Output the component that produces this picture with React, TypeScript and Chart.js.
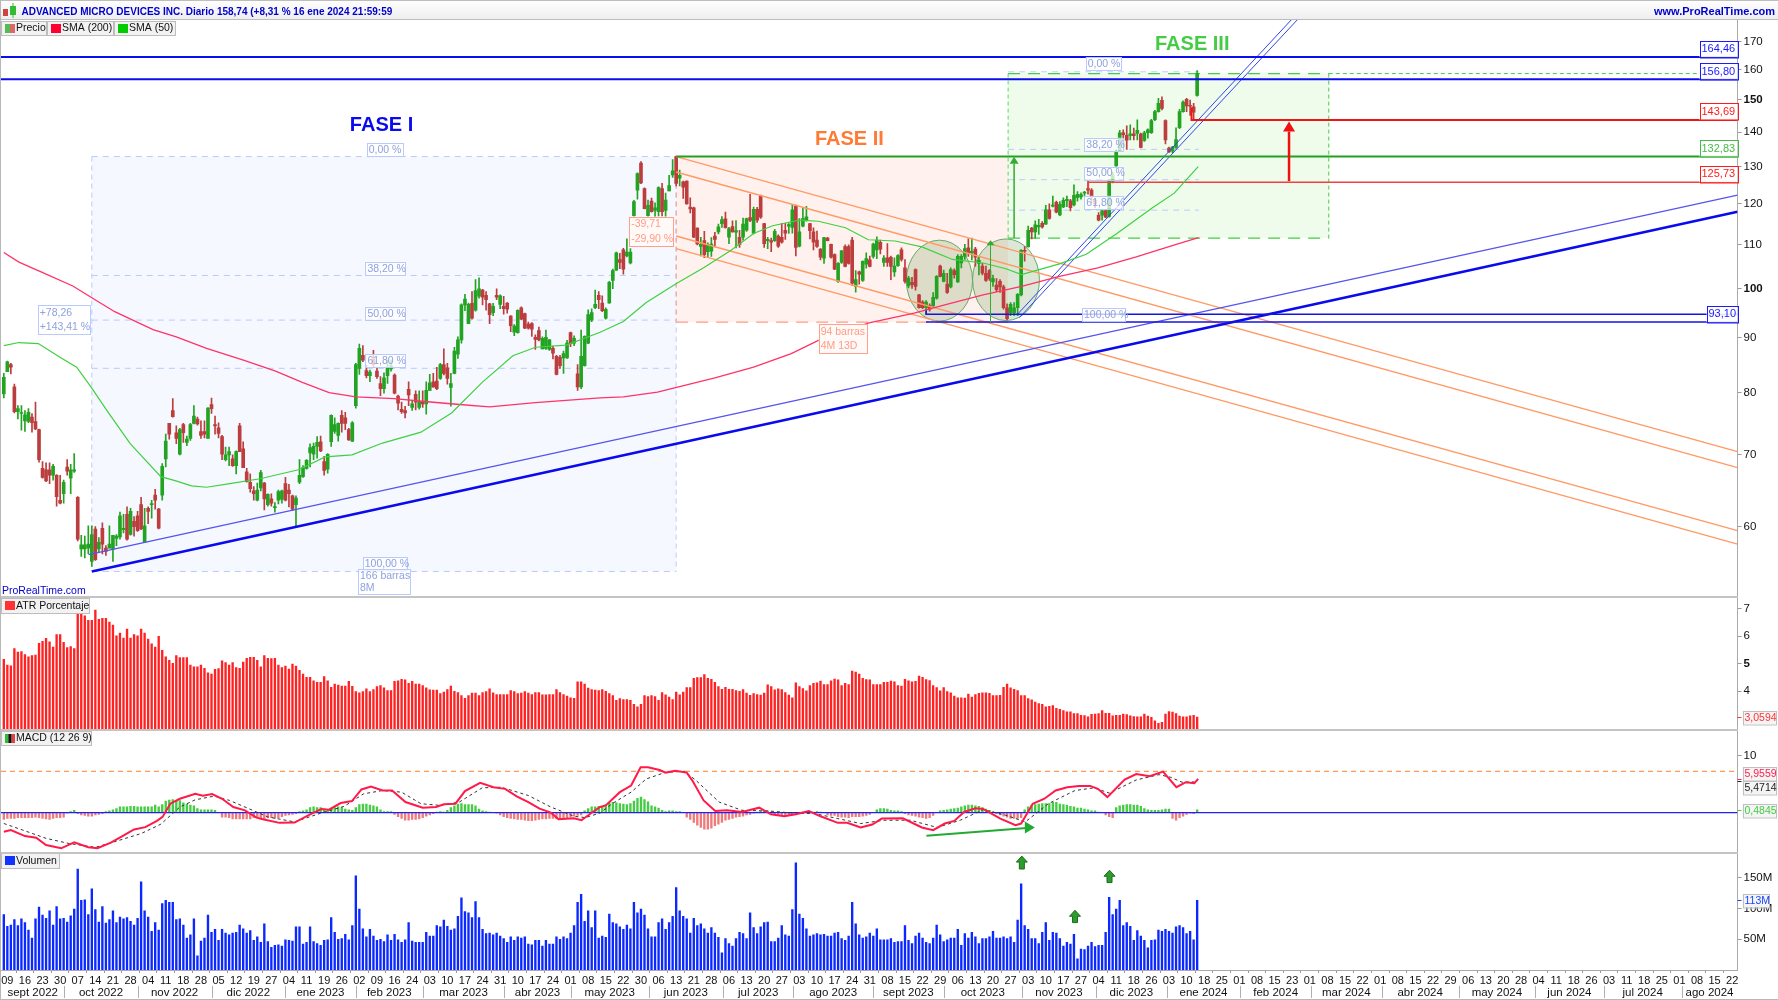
import React, { useEffect, useRef } from "react";
import { Chart, registerables } from "chart.js";

Chart.register(...registerables);

// ---------- DATA ----------
const titleText = "ADVANCED MICRO DEVICES INC. Diario 158,74 (+8,31 % 16 ene 2024 21:59:59";

const dayLabels = ["09","16","23","30","07","14","21","28","04","11","18","28","05","12","19","27","04","11","19","26","02","09","16","24","03","10","17","24","31","10","17","24","01","08",
"15","22","30","06","13","21","28","06","13","20","27","03","10","17","24","31","08","15","22","29","06","13","20","27","03","10","17","27","04","11","18","26","03","10",
"18","25","01","08","15","23","01","08","15","22","01","08","15","22","29","06","13","20","28","04","11","18","26","03","11","18","25","01","08","15","22"];
const monthLabels = ["sept 2022","oct 2022","nov 2022","dic 2022","ene 2023","feb 2023","mar 2023","abr 2023","may 2023","jun 2023","jul 2023","ago 2023","sept 2023","oct 2023","nov 2023","dic 2023","ene 2024","feb 2024","mar 2024","abr 2024","may 2024","jun 2024","jul 2024","ago 2024"];
const monthStarts = [-0.8,17.2,38,59,79.9,100,119,142.2,161,183.2,204.3,224.3,246.9,267,289.2,310.3,330.3,351.3,371.3,391.4,413.3,435,454.5,476.6,492.5];

// open, high, low, close
const candlesA = [[79.8,83.4,79.1,82.7],[83.7,85.6,83.7,85.5],[85,85.2,83.3,84.5],[81,81.5,76.6,76.8],[76.8,77.8,75.6,77.3],[76.5,77.8,73.8,76.6],[75.3,77,73.6,76.3],[75.2,77.3,75,76.7],[75.9,76.5,73.5,75],[75.2,78.4,73.9,74],
[73.9,74,68.9,69.3],[68,69,66.6,66.7],[67.8,68.8,66.1,66.2],[67.8,68.8,65.8,67],[67,68.6,66.3,68.3],[67,67.1,62.7,64],[63.5,67,63,63.1],[64.4,66.3,63.1,66],[68.2,69.3,67,67.6],[66.6,68.6,64.4,67.8],
[67.6,70.2,67.4,67.8],[63.9,64,58.2,58.4],[57.2,58.9,56.3,57.7],[57.2,58.8,56.1,57.7],[57.3,60.1,56.6,57.8],[55.7,60.1,55.1,59],[59.7,60,55.8,55.9],[57.2,58.6,56.8,58],[59.8,60.5,56.6,57.8],[57.3,57.6,56.4,56.9],
[57.3,60.1,57.3,57.8],[57.2,58.9,55.7,58.9],[58.5,59,57.6,58.8],[58.7,61.9,58.4,61.4],[59.6,61.6,59.2,59.8],[61.6,62.6,58.3,58.4],[59,62.4,58.9,62],[60.7,61.3,58.8,60],[61.4,62,59.4,59.5],[62.9,63.9,59.6,59.7],
[58,62.4,58,60.1],[62.4,62.6,60.4,62],[62.9,63.5,61.1,63],[64.2,65,62.3,63.5],[62.3,62.4,59.7,59.8],[64.2,68.7,63.5,68.3],[69.4,73.2,68.2,72.1],[74.9,74.9,72.4,73.2],[77,79,75.9,76],[73.4,74.5,71.7,72.5],
[70.1,74.1,70,73.9],[74.7,74.9,71.9,73.4],[71.9,72.9,71.4,72.4],[72.5,74.9,72.2,74.7],[74.9,77.8,74.8,76.1],[75.6,75.9,74.6,74.8],[73.6,75.3,72.5,73],[73.6,75.3,72.6,73.2],[72.5,77.5,72.5,77.4],[78,79.1,76.5,77.3],
[74.7,76.1,73.2,74.5],[74.2,75,72.6,73.3],[72.8,73,69.3,70.1],[69.3,71.2,69.1,70],[70,71.2,68.4,70.5],[69.4,70,68.3,68.4],[68.4,70.6,67.2,70.5],[74.5,74.9,70.5,70.5],[70.9,72,68.1,68.1],[67.5,68,66,66.1],
[66,67.2,64.6,65.1],[64.8,65.4,63.5,64.4],[63.5,65.9,63.4,64.9],[65.2,67.7,64.8,67.4],[65.9,66,62.2,63.7],[62.9,64.4,62.7,64.3],[63.7,64.4,62.7,63.1],[62.5,63.2,61.9,62.6],[63.5,64.9,63,64.7],[63.6,64.9,63.1,64.8],
[65.8,66.7,63.4,63.5],[64.9,65.7,62.6,64.4],[64.1,64.2,62.1,62.3],[62.9,64.1,60.1,63.8],[66,69.3,65.8,67]];
const candlesB = [[66.8,68.4,66.7,68.1],[68,69.3,67.9,69.2],[70.3,71.7,68.2,71.1],[70.1,71.8,69.3,71.3],[71.3,72.8,69.5,71.9],[72,72.9,70.5,70.6],[69,69.8,67,67.7],[67.9,70.2,67.3,70.1],[72,76.3,71.3,76.2],[73.6,75.8,73.3,74.7],
[73,75,72.1,74.9],[76.2,77,73.5,74.9],[75.8,76.7,73.9,74.9],[73.9,74.1,72.2,72.3],[72.1,75.2,72,75],[77.8,85.2,77.4,85],[84.3,88.8,83.2,88],[86.7,88.5,85.5,85.8],[83.9,84.9,82.6,83],[83,84,81.9,83.6],
[86,87.6,84.5,85],[83.8,84.5,82.5,82.8],[81.6,82.8,79.5,80.7],[80.7,83.5,79.9,82.6],[83,85.8,81.6,84.3],[84.2,85.8,83.8,84.8],[83.1,83.3,79.8,79.9],[79.4,79.6,77.1,78.2],[77.2,78.4,76.5,76.8],[77,77.7,75.8,76.6],
[80.6,81.9,77.8,79.6],[77.5,78.7,77,78.1],[79.7,80.3,77.1,78.4],[77.5,80.3,77.2,78.5],[78.4,80.3,77.5,78.1],[78.1,81.9,76.4,80.4],[80.4,83.2,80.4,81.7],[81.9,83.4,80.9,81],[82,84.5,80.5,80.7],[82.5,85.2,82.3,85],
[85,87.9,83.1,83.4],[84.4,85.2,81.5,82.5],[80.9,83.4,77.7,81.6],[83.4,88.2,83.3,87.5],[86.9,90.2,86.1,89.6],[89.6,96.8,89,96.6],[96.6,98.8,95.4,97.8],[92.8,97,92.8,96.7],[96.9,99.4,93.7,93.9],[95.5,102,95.3,99.6],
[98.4,102.4,98,100],[99.7,99.9,96.6,98.2],[98.6,99.4,95.5,97.7],[96.8,96.9,92.8,94.6],[95,96.9,94.4,96.3],[98.6,100,97.7,98.2],[96.7,98.7,95.8,98.5],[96.3,98.4,94.7,95.8],[97,97.1,94.9,95.7],[94.3,94.4,91.2,92.4],
[91.1,92.6,90.4,92.3],[91,95.6,90.9,95.5],[96,96.2,93.6,93.7],[94.8,94.9,91.8,91.9],[92.7,93.1,91.7,91.9],[92.8,93,90.3,91.7],[90.1,90.6,87.8,89.7],[91.4,92.1,89.4,89.6],[87.9,90.2,87.9,89.9],[88,91.5,87.8,90.1],
[87.8,89.7,87.6,89.6],[88,88.4,86,87.1],[86.5,86.7,83.1,83.2],[86.3,86.7,84.3,84.8],[86.2,87.5,83.4,87],[86.2,89.5,86.1,89],[91,91.1,88.3,88.9],[89,90.4,88.5,89.9],[83.3,85,80.4,81],[81,91.5,80.7,86.5],
[84.8,90.4,84.7,90.3],[89,95.6,88.9,94.6],[93.5,95.8,93.2,95],[96,99.7,95.8,96.7],[98.6,99.4,95.8,97.7]];
const candlesC = [[97,98.5,95.2,95.4],[93.9,96,93.7,95.7],[97,101.6,96.9,101.4],[101.8,104.3,100,104],[104.1,108.2,104,108],[106.5,107.9,104.4,105.8],[108.7,109.1,103.2,104.3],[107.3,111.3,107.1,108.2],[105.7,109,105.5,108.2],[117,120.9,116.8,120.6],
[123.6,128.3,121.2,128.1],[131,131.4,125.3,125.5],[124,124.2,118.7,118.8],[117,121,116.8,119.6],[120.7,121.5,117.9,118],[118.3,120.3,116.5,119],[118,124.5,116.9,124.3],[124,125.4,116.9,118],[118.3,122.8,116.5,121],[123.4,127.6,123.4,124.8],
[127.7,132,127,128.8],[132.8,133,124.7,125.4],[126.8,129,124.7,127.6],[125.8,126,121.4,124.4],[126,126.1,119.9,120],[119.2,121.6,117.7,118.7],[119,119.2,111.6,111.7],[113.9,114,109.9,110.1],[109.5,111.7,107.3,110],[110.9,113.1,106.9,107.6],
[108.3,110.4,106.9,110],[108.4,111.6,107.2,110.1],[112,112.9,109.4,111.2],[113,114.9,112.5,114.2],[115,116.8,114.1,116],[116.2,117.9,113.9,114],[111.7,114.1,110.2,113.8],[114.3,115.7,112.9,113],[112.9,115.8,109.2,113.3],[111.7,113.4,109.3,110],
[111.7,116.4,111,114.9],[113.4,116.4,113.1,116.3],[116.5,122.5,115.5,115.8],[112.7,119.2,112.5,118.6],[118.6,119.1,115.3,115.9],[122,122.3,116.3,116.6],[115,115.1,109.3,110.2],[110.9,111.7,109,111.2],[110.9,111.5,108.3,110.5],[110.9,113.6,110.7,113.1],
[112,112.3,109.3,109.6],[111.7,115.1,110.3,110.5],[113.4,115.1,111.2,112.7],[114.4,115,112.6,114.8],[114.1,119.8,112.7,118.5],[119.5,119.7,107.3,109.3],[109.6,116.3,109.4,113],[114.4,119,114.2,116.3],[115.8,119.4,115.6,116.7],[115,115.1,111.3,113.3],
[113,114,108.7,110.5],[111,113.2,109.3,109.5],[108.9,109,106.4,107],[106.8,111.7,105.6,111.6],[111.5,111.7,110.8,110.9],[110,110.1,106.8,107],[107.6,107.8,104.2,104.3],[101.6,105.8,101.4,105.6],[105.8,108.6,105.6,108.5],[109.5,109.9,104.8,104.9],
[109.5,109.9,105.4,105.6],[111,111.7,100.7,101.2],[100.5,104,99.3,102],[103.7,103.9,101,103.2],[101.8,106.2,101.6,106.1],[105.4,108,104.5,106.7],[106.4,107.3,104.8,104.9],[107.2,110.3,106.8,110.1],[108.7,111.8,106.7,111],[110.5,111,107.8,108.9],
[105.8,107.4,104.9,106.8],[106.9,110.2,104.9,105.8],[107,107.3,102,104.9],[103.7,106.9,102.7,105],[105.1,107.6,104.9,107.4]];
const candlesD = [[108.7,109.2,106.1,106.5],[104.6,106.5,101.2,101.6],[100.6,102.7,100.2,102.3],[101.4,102.5,100.1,100.9],[104.2,104.4,99.7,100.5],[98.7,98.8,95.9,96],[97.2,97.5,95.8,96],[96,97.5,94.7,97.2],[96.5,96.8,95.3,95.7],[96.4,99.2,96.2,98.2],
[98,102.9,97.8,102.7],[105,105.2,102.6,102.7],[101.6,104.1,101.5,103.4],[101,103.4,99,99.2],[100.4,104.6,100.2,104.2],[104,104.4,102.3,103.1],[101.5,107.6,101.4,107.2],[105.7,107.6,104.6,107.2],[107.2,110,106.5,109],[109.2,111.3,107.2,108],
[108,111.5,106.4,108.4],[108.9,109.3,105,107],[105.6,107.1,103,106.3],[105,105.6,103,103.4],[103.4,105,101.6,101.8],[104,104.2,101.8,102.2],[101.5,103,100.5,102.2],[100.8,102.2,99.4,99.8],[101.6,102,99.2,100.4],[100.4,100.8,95.7,96],
[96,96.8,93.6,93.8],[95,97.1,94.4,96.7],[95,97.1,94.4,96],[96,99,94.4,98.8],[98.7,108.8,98.5,108.6],[108.5,109.5,106.1,108.4],[109.4,114.4,109.4,113.4],[113.9,114.1,111.3,113],[113,115.7,111.5,114.7],[114.2,116.1,112.4,114.6],
[115.1,115.5,113.9,114.2],[114.9,119.6,114.8,118.5],[118.5,120,116.1,116.3],[119.4,122,119.2,119.7],[120.4,120.7,117.7,117.9],[117.2,120.6,117,119.9],[119.2,121.6,119,120.9],[120.8,122,119.3,121.2],[120.8,121.2,118.2,119],[119.7,125,119.5,122.2],
[121.6,123.2,120.7,122.5],[121.8,122.9,121.2,122.4],[122.8,123.3,122,123],[124,126,122.5,123.6],[123.6,124,120.4,122],[121,121.5,119,120],[117.1,117.8,115.7,115.9],[117.1,118.4,115.9,118.2],[118.3,118.4,116.5,116.6],[116.8,126.3,116.6,126.1],
[126,128.5,125.5,127.5],[130.2,134.8,130,134.3],[134.6,140.5,134.3,139.8],[139.8,140.7,136,139.2],[139,141.9,134.9,137.6],[139,142.2,137.7,139.5],[139.5,141.2,137.7,138.9],[139.6,143.7,137.7,140.5],[139.4,139.7,135.3,135.5],[137.5,140.2,137.2,139.8],
[139.8,141,138.2,140.7],[139.8,143.9,139.6,143.5],[143.8,146.7,143.5,146.3],[146.3,150.5,146.1,148.9],[149.9,151,146.8,147.3],[143.5,143.7,136.5,137.7],[135.3,135.6,134,134.2],[134.4,135.8,133.9,135.6],[135.5,141.3,135.2,137.8],[141.3,147,141,146.3],
[146.3,149.7,146.1,149.3],[150.2,150.5,146.3,148.1],[148.2,150,145.1,148],[147.8,148.9,143.7,146.1],[151.5,159.8,151.2,158.74]];

const sma200 = [[0,108.1],[4.3,105.9],[10.9,103.6],[19.6,100.6],[25,98.1],[31.5,95.2],[42.4,91.6],[49,90.2],[57.6,88],[68.5,85.7],[77.2,83.8],[84.8,81.8],[92.4,80],[100,79.3],[110.9,79],[119.6,78.5],[129.4,78],[138,77.6],[151,78.3],[169.4,79.1],[176,79.3],[185.7,80.1],[202,82.6],[213,84.5],[223.7,87],[231.4,89.5],[245.5,92.9],[258.6,94.9],[267.3,96.6],[278.2,98.7],[289.1,100.5],[299.9,102.7],[310.8,104.6],[321.7,107.1],[332.6,109.9],[339.4,111.6]];
const sma50 = [[0,88.5],[4.3,89.1],[9.8,88.9],[16.3,86.2],[20.7,84.5],[25,80.8],[29.4,76.9],[35.9,71.7],[44.6,66.8],[48.9,66.2],[53.3,65.5],[57.6,65.3],[64.2,65.8],[72.8,66.5],[83.7,67.8],[91.3,69.7],[98.9,70],[107.6,71.8],[118.5,73.5],[127.2,76.6],[135.9,81.8],[144.6,86.6],[151.1,88.2],[159.8,88.6],[169.4,91.1],[176,93.2],[182.5,97.1],[191.2,101.2],[198.8,104.6],[206.4,108.5],[213,112.6],[218.4,114.5],[226,115.9],[231.4,115.6],[239.1,114],[245.6,111.1],[253.2,110.8],[260.8,109.4],[269.5,106.5],[278.2,105.7],[284.7,104.4],[289.1,103.1],[299.9,105.5],[307.5,107.7],[316.2,112.6],[326,118.8],[332.5,122.8],[339.3,130]];

const atrA = [5.16,4.95,4.92,5.55,5.42,5.44,5.33,5.25,5.29,5.31,5.74,5.81,5.92,5.79,5.6,6.05,6.05,5.77,5.58,5.62,5.55,6.79,6.79,6.73,6.57,6.57,6.94,6.61,6.64,6.64,6.51,6.4,6.01,6.11,5.93,6.25,5.93,6.05,6.01,6.25,6.11,5.89,5.72,5.6,5.99,5.48,5.25,5.12,5.01,5.29,5.22,5.22,5.22,4.95,4.88,4.88,4.95,4.83,4.67,4.62,4.79,4.82,5.1,5.04,4.95,5.04,4.86,4.83,5.06,5.19,5.23,5.23,5.12,4.88,5.29,5.19,5.18,5.19,4.95,4.86,4.91,4.8,4.98,4.91,4.76,4.62,4.5,4.5,4.38,4.32,4.32,4.53,4.38,4.14,4.26,4.22,4.19,4.19,4.36,4.18,3.99,3.94,3.99,4.09,3.99,4.06,4.17,4.2,4.12,4.02,4.02,4.36,4.38,4.43,4.41,4.29,4.36,4.26,4.26,4.2,4.12,4.05,4.04,4.04,3.91,3.97,4.06,4.19,4,3.95,3.84,3.74,3.84,3.93,3.93,3.84,3.95,3.99,4.09,3.94,3.88,3.88,3.88,3.88,4.02,3.99,3.91,3.93,3.99,3.93,3.88,3.95,3.95,3.87,3.87,3.88,3.88,4.06,3.95,3.88,3.82,3.76,3.74,4.34,4.34,4.26,4.11,4.06,4.04,4.02];
const atrB = [4.06,4,3.91,3.84,3.67,3.73,3.7,3.7,3.67,3.52,3.43,3.52,3.84,3.81,3.84,3.81,3.67,3.95,3.87,3.79,3.7,3.97,3.87,3.97,4.13,4.13,4.47,4.49,4.49,4.6,4.47,4.43,4.32,4.17,4.07,4.14,4.07,4.07,4.02,4,4.06,3.93,3.85,3.91,3.88,3.86,3.93,4.23,4.17,4.05,4.09,4.06,3.95,3.86,3.76,4.3,4.17,4.1,4.01,4.2,4.29,4.3,4.37,4.24,4.24,4.38,4.44,4.41,4.2,4.29,4.24,4.73,4.69,4.62,4.47,4.42,4.41,4.24,4.24,4.24,4.32,4.32,4.37,4.34,4.2,4.19,4.43,4.38,4.34,4.36,4.55,4.5,4.42,4.39,4.2,4.13,4.01,4.13,3.99,3.94,3.82,3.76,3.76,3.75,3.9,3.79,3.88,3.92,3.94,3.94,3.92,3.84,3.84,3.85,4.14,4.26,4.12,4.07,4.02,3.84,3.84,3.73,3.69,3.61,3.55,3.52,3.43,3.45,3.48,3.38,3.34,3.3,3.25,3.25,3.19,3.19,3.13,3.12,3.07,3.16,3.17,3.19,3.3,3.2,3.2,3.11,3.13,3.13,3.17,3.15,3.11,3.08,3.07,3.07,3.17,3.1,3.05,2.93,2.84,2.87,3.17,3.26,3.24,3.19,3.1,3.07,3.07,3.11,3.13,3.06];

const macdHistA = [-1.2,-1,-1,-1,-.9,-.9,-.9,-.9,-.9,-.8,-.9,-1,-1.1,-1.2,-1,-.9,-.9,-.8,-.1,.2,.4,-.2,-.4,-.5,-.6,-.6,-.4,-.3,-.2,.2,.3,.5,.7,1,1,1,1.1,1.1,1,1,1,1,1,1.3,1,1.4,2,2.2,2.3,2.1,2.1,1.7,1.5,1.3,1.2,.7,.5,.5,.5,.5,.4,0,-.8,-.8,-.9,-1.1,-1.1,-1.1,-1.1,-1.1,-1.1,-.9,-.9,-1.1,-1.1,-.9,-.9,-1,-.9,-.7,-.5,-.4,-.3,-.2,.2,.3,.5,.9,1,.9,.9,.6,.4,.8,.9,1,.9,.6,.5,.4,.9,1.4,1.5,1.5,1.3,1.2,1,.5,.2,.2,.2,-.3,-.7,-1,-1.3,-1.3,-1.2,-1.2,-1.1,-.9,-.6,-.4,-.2,.1,.2,.1,.4,.9,1.2,1.5,1.6,1.4,1.4,1.4,1.2,.6,.3,.2,.1,0,-.1,-.4,-.7,-.9,-1,-1.1,-1.2,-1.2,-1.3,-1.4,-1.4,-1.3,-1.2,-1.1,-1.1,-1,-1,-1.1,-1.2,-.9,-.9,-.8,-.6,-.5,-.4,.3,.7,1,1,1.1];
const macdHistB = [1,1.4,1.7,1.8,1.7,1.6,1.5,1.4,1.6,2,2.5,2.7,2.3,1.9,1.2,1,.8,.4,.2,.3,.3,.2,.2,0,-.8,-1.2,-1.7,-2.2,-2.6,-2.9,-2.9,-2.7,-2.3,-2,-1.7,-1.3,-1.2,-1,-.8,-.7,-.6,-.4,-.3,-.1,.1,.2,.3,.3,.1,-.2,-.4,-.5,-.6,-.5,-.3,-.2,0,.1,.2,.2,.1,.2,.1,0,-.4,-.5,-.5,-.7,-.8,-.8,-.9,-.7,-.7,-.7,-.6,-.5,-.3,0,.5,.7,.7,.6,.4,.3,.3,.2,-.2,-.4,-.5,-.6,-.8,-.9,-1,-.9,-.5,0,.3,.4,.5,.6,.7,.8,1,1.2,1.3,1.3,1.2,1.1,.9,.6,.4,.2,-.2,-.4,-.6,-.8,-1,-1,-1,-.9,.5,1,1.3,1.4,1.5,1.6,1.6,1.6,1.8,1.8,1.5,1.4,1.3,1.1,1,.8,.8,.6,.5,.3,.3,.1,0,-.4,-.7,-.9,.9,1.2,1.3,1.4,1.4,1.3,1.3,1.1,.7,.5,.4,.4,.4,.5,.6,.6,-1,-1.3,-.9,-.6,-.3,-.1,-.2,.48];
const macdLine = [[0,-3.35],[2,-3.06],[6,-4.1],[9.2,-4.4],[12,-5.66],[16.3,-6.24],[20,-5.2],[24,-6.07],[26.6,-6.24],[30.4,-5.26],[33.7,-4.1],[37,-2.95],[40.2,-2.54],[43.5,-1.45],[45.1,-.75],[47.3,1.56],[50,2.43],[54.4,3.29],[56.5,2.95],[59.2,3.24],[62,2.43],[65.2,.98],[68.5,.4],[71.8,-.87],[73.9,-1.21],[78.3,-1.79],[82.6,-1.73],[87,-.29],[90.2,.64],[92.4,.52],[95.7,1.68],[98.9,2.02],[101.6,4.05],[104.3,4.57],[107.6,3.87],[110.3,3.87],[114.1,1.85],[119,.87],[122.8,.98],[125,1.45],[128.3,1.56],[131,3.76],[135.3,5.2],[139.1,4.45],[142.4,4.16],[145.7,2.83],[149,1.85],[152.2,.69],[155.4,0],[157.6,-1.16],[162,-.98],[164.1,-1.33],[166.9,-.06],[169.4,.98],[171,1.27],[175,3.58],[178.2,4.74],[180.9,7.92],[183,7.92],[186.3,7.46],[188,7],[190.7,7.34],[194,7],[195.6,5.6],[198.8,2.14],[202.1,.29],[205.4,.4],[209.7,.12],[214.6,.87],[217.9,-.29],[221.7,-.64],[225,-.29],[228.7,.29],[232,-.64],[236.9,-1.79],[239.6,-1.79],[243.4,-2.6],[246.7,-2.08],[249.4,-1.04],[255.4,-.98],[260.8,-2.6],[264,-3.06],[267.3,-1.91],[270,-1.45],[272.8,.12],[276,.75],[278.2,.64],[283.1,-1.04],[287.4,-2.2],[289,-1.91],[292.3,1.56],[295.6,2.43],[298.8,3.87],[302.1,4.45],[305.4,4.68],[308.6,4.68],[310.8,4.16],[313.5,2.72],[318.4,5.78],[321.7,6.76],[325.5,6.36],[329.3,7.17],[333.1,4.45],[335.8,5.32],[338.2,5.14],[339.3,5.9]];
const macdSignal = [[0,-1.9],[5.4,-3.06],[12,-4.5],[18.5,-5.4],[26,-6.07],[31.5,-5.09],[39.1,-3.64],[44.6,-2.02],[50,.98],[54.4,2.25],[59.8,2.89],[64.1,2.14],[69.6,.69],[75,-.75],[82.6,-1.62],[90.2,-.06],[96.7,1.1],[102.2,3.29],[107.6,3.87],[113,3.58],[118.5,1.56],[123.9,1.27],[129.4,1.85],[135.9,4.34],[141.3,4.45],[149,3],[155.4,.98],[162,-.64],[165.2,-.87],[169.4,-.06],[172.8,1.56],[178.2,3.58],[182.5,5.9],[188,7.05],[193.4,7.23],[196.7,5.6],[203.2,1.85],[209.7,.4],[217.3,.29],[223.8,-.06],[230.4,-.17],[236.9,-1.04],[243.4,-1.91],[250,-1.33],[257.5,-1.33],[265.2,-2.6],[271.7,-1.33],[278.2,.52],[284.7,-.46],[290.2,-1.62],[296.7,1.56],[304.3,3.87],[309.7,4.34],[314.1,3.41],[321.7,5.72],[328.2,6.65],[331.5,6.18],[334.7,5.32],[338.2,5.38]];

const volumeA = [90,71,73,82,72,83,77,65,52,83,102,89,84,96,73,103,83,84,78,88,99,164,113,114,90,132,98,78,103,76,82,96,77,86,83,85,79,73,84,143,96,86,63,77,65,108,113,110,110,82,83,73,52,57,83,23,47,52,89,61,66,48,66,60,57,60,61,73,67,60,64,48,54,45,75,46,37,40,41,39,49,48,47,70,70,42,45,70,46,43,40,48,49,85,61,50,51,58,49,72,153,99,67,54,66,55,48,50,46,57,48,58,49,45,49,77,47,45,45,45,61,55,55,72,70,81,71,65,67,87,117,95,93,85,111,85,66,59,60,57,60,55,51,45,54,48,54,52,54,42,41,48,48,39,48,42,42,54,50,54,51,60,72,110,123,79,96,69,96,52];
const volumeB = [55,53,91,77,75,70,66,73,67,110,93,99,89,67,54,54,77,83,66,77,87,134,96,87,83,60,84,72,75,67,60,69,60,53,28,51,43,39,51,61,59,51,93,69,59,70,77,78,46,46,52,72,57,55,98,174,91,84,67,55,57,59,57,58,55,55,60,61,51,48,55,110,75,57,52,54,60,55,67,49,49,49,51,45,46,46,72,48,43,55,60,52,45,43,52,73,57,46,49,52,52,66,40,59,52,61,54,43,51,51,54,63,52,52,54,51,54,45,81,140,72,66,51,51,43,61,77,48,61,60,51,39,45,42,58,18,34,33,39,45,38,40,40,61,118,90,99,113,72,77,71,48,64,55,48,36,48,49,65,63,66,63,60,70,72,69,59,63,49,113];

// Price levels and drawn lines
const priceTicks = [170,160,150,140,130,120,110,100,90,80,70,60];
const atrTicks = [7,6,5,4];
const macdTicks = [10];
const volumeTicks = [150,100,50];
const trendThick = [[25,54.5],[492.5,118]];
const trendThin = [[24.1,56.5],[492.5,122.3]];
const channelA = [[191,132.83],[492.5,70.5]];
const channelB = [[191,128.5],[492.5,68.1]];
const channelC = [[191,112],[492.5,59.5]];
const channelD = [[191,109],[492.5,57.8]];
const riseA = [[288,94.7],[365.7,178.1]];
const riseB = [[288.5,94],[367.4,178.1]];
const resistanceHigh = [[-0.8,164.46],[492.5,164.46]];
const resistanceLow = [[-0.8,156.8],[492.5,156.8]];
const redUpper = [[337.4,147.7],[337.4,143.69],[492.5,143.69]];
const redLower = [[308.1,123.7],[308.1,125.73],[492.5,125.73]];
const greenLevel = [[191,132.83],[492.5,132.83]];
const supportUpper = [[262,95.7],[262,94.7],[492.5,94.7]];
const supportLower = [[262,93.1],[492.5,93.1]];
const phaseOne = { from: 25, to: 191, high: 132.83, low: 54.5 };
const phaseTwo = { from: 191, to: 285.3, high: 132.83, low: 93.1 };
const phaseThree = { from: 285.3, to: 376.4, high: 158.74, low: 111.5 };
const phaseOneFib = [102.9, 93.5, 84.3];
const phaseThreeFib = [134.9, 126.4, 118.4];
const circles = [{ center: 265.8, radius: 9.4, high: 111, low: 93.3 }, { center: 284.7, radius: 9.5, high: 111.3, low: 93.4 }];
const priceBoxes = [
  { value: 164.46, text: "164,46", color: "#1a1aff" },
  { value: 156.8, text: "156,80", color: "#1a1aff" },
  { value: 143.69, text: "143,69", color: "#ff1a1a" },
  { value: 132.83, text: "132,83", color: "#44bb44" },
  { value: 125.73, text: "125,73", color: "#ff1a1a" },
  { value: 93.1, text: "93,10", color: "#1a1aff" },
];
const blueTags = [
  { x: 108.2, y: 134.8, w: 36, lines: ["0,00 %"] }, { x: 108.4, y: 104.5, w: 40, lines: ["38,20 %"] }, { x: 108.4, y: 94.9, w: 40, lines: ["50,00 %"] }, { x: 108.4, y: 85.7, w: 40, lines: ["61,80 %"] }, { x: 108.2, y: 55.4, w: 44, lines: ["100,00 %"] },
  { x: 108, y: 53.3, w: 52, lines: ["166 barras", "8M"] }, { x: 17, y: 93.6, w: 52, lines: ["+78,26", "+143,41 %"] },
  { x: 312.3, y: 162.1, w: 35, lines: ["0,00 %"] }, { x: 312.5, y: 136.4, w: 39, lines: ["38,20 %"] }, { x: 312.5, y: 128.2, w: 39, lines: ["50,00 %"] }, { x: 312.5, y: 120.4, w: 39, lines: ["61,80 %"] }, { x: 312.4, y: 94.6, w: 43, lines: ["100,00 %"] },
];
const salmonTags = [{ x: 183.9, y: 113.2, w: 44, lines: ["-39,71", "-29,90 %"] }, { x: 238.3, y: 89.9, w: 48, lines: ["94 barras", "4M 13D"] }];
const phaseTitles = [{ text: "FASE I", x: 107.3, y: 142, color: "#0a0aee" }, { text: "FASE II", x: 240.2, y: 137.8, color: "#ff7a33" }, { text: "FASE III", x: 337.6, y: 169.1, color: "#44cc44" }];
const redArrow = { x: 365.1, from: 126, to: 143.2 };
const greenArrow = { x: 287, from: 111.5, to: 132.8 };
const thinGreenArrow = { x: 280.3, from: 93.1, to: 111 };
const macdArrow = { fromX: 262.1, fromY: -4.05, toX: 292.9, toY: -2.6 };
const volumeArrows = [{ x: 289.2, top: 185, bottom: 164 }, { x: 304.3, top: 97, bottom: 77 }, { x: 314.1, top: 162, bottom: 142 }];
const macdDashLevel = 7.23;

const FONT = '"Liberation Sans", Arial, sans-serif';
const candles = [...candlesA, ...candlesB, ...candlesC, ...candlesD];
const atr = [...atrA, ...atrB];
const macdHist = [...macdHistA, ...macdHistB];
const volume = [...volumeA, ...volumeB];
const pts = (a: number[][]) => a.map(([x, y]) => ({ x, y }));
const series = (a: number[]) => a.map((y, x) => ({ x, y }));

const line = (data: number[][], color: string, width = 1, dash: number[] = [], order = 1) => ({
  type: "line", data: pts(data), borderColor: color, borderWidth: width, borderDash: dash, pointRadius: 0, tension: 0, order, parsing: undefined,
});

function textBox(ctx: any, x0: number, y0: number, w: number, h: number, border: string, color: string, lines: string[], bg = "rgba(255,255,255,0.75)", size = 10.5) {
  ctx.save();
  ctx.fillStyle = bg;
  ctx.fillRect(x0, y0, w, h);
  ctx.strokeStyle = border;
  ctx.lineWidth = 1;
  ctx.strokeRect(Math.round(x0) + 0.5, Math.round(y0) + 0.5, w, h);
  ctx.fillStyle = color;
  ctx.font = size + "px " + FONT;
  ctx.textAlign = "left";
  ctx.textBaseline = "middle";
  const lh = h / lines.length;
  lines.forEach((t, i) => ctx.fillText(t, x0 + 2, y0 + lh * (i + 0.5) + 0.5));
  ctx.restore();
}

function legendChip(ctx: any, x: number, y: number, w: number, h: number, label: string, colors: string[]) {
  ctx.save();
  ctx.fillStyle = "#f2f2f2";
  ctx.fillRect(x, y, w, h);
  ctx.strokeStyle = "#bdbdbd";
  ctx.strokeRect(x + 0.5, y + 0.5, w, h);
  const sw = 10 / colors.length;
  colors.forEach((c, i) => {
    ctx.fillStyle = c;
    ctx.fillRect(x + 4 + sw * i, y + 3, sw, 9);
  });
  ctx.fillStyle = "#111";
  ctx.font = "10.5px " + FONT;
  ctx.textBaseline = "middle";
  ctx.textAlign = "left";
  ctx.fillText(label, x + 15, y + h / 2 + 0.5);
  ctx.restore();
}

function vArrow(ctx: any, x: number, yFrom: number, yTo: number, color: string, lw: number, hw: number, hh: number) {
  ctx.save();
  ctx.strokeStyle = color;
  ctx.fillStyle = color;
  ctx.lineWidth = lw;
  ctx.beginPath();
  ctx.moveTo(x, yFrom);
  ctx.lineTo(x, yTo + hh);
  ctx.stroke();
  ctx.beginPath();
  ctx.moveTo(x, yTo);
  ctx.lineTo(x - hw, yTo + hh);
  ctx.lineTo(x + hw, yTo + hh);
  ctx.closePath();
  ctx.fill();
  ctx.restore();
}

function zone(ctx: any, sx: any, sy: any, z: any, fill: string) {
  ctx.fillStyle = fill;
  const x0 = sx.getPixelForValue(z.from), x1 = sx.getPixelForValue(z.to), y0 = sy.getPixelForValue(z.high), y1 = sy.getPixelForValue(z.low);
  ctx.fillRect(x0, y0, x1 - x0, y1 - y0);
}

const mainPlugin = {
  id: "mainDecor",
  beforeDatasetsDraw(chart: any) {
    const { ctx, scales: { x, y } } = chart;
    ctx.save();
    zone(ctx, x, y, phaseOne, "#f6f8ff");
    zone(ctx, x, y, phaseTwo, "#fff2ee");
    zone(ctx, x, y, phaseThree, "#effcec");
    const vDash = (i: number, a: number, b: number, color: string, dash: number[]) => {
      ctx.strokeStyle = color;
      ctx.lineWidth = 1;
      ctx.setLineDash(dash);
      ctx.beginPath();
      ctx.moveTo(x.getPixelForValue(i), y.getPixelForValue(a));
      ctx.lineTo(x.getPixelForValue(i), y.getPixelForValue(b));
      ctx.stroke();
    };
    vDash(phaseOne.from, phaseOne.high, phaseOne.low, "#b9caff", [5, 4]);
    vDash(phaseOne.to, phaseOne.high, phaseOne.low, "#b9caff", [5, 4]);
    vDash(phaseTwo.from, phaseTwo.high, phaseTwo.low, "#ff9c85", [5, 4]);
    vDash(phaseThree.from, phaseThree.high, phaseThree.low, "#55dd55", [4, 3]);
    vDash(phaseThree.to, phaseThree.high, phaseThree.low, "#44cc44", [4, 3]);
    ctx.setLineDash([]);
    circles.forEach((c) => {
      const cx = x.getPixelForValue(c.center);
      const rx = x.getPixelForValue(c.center + c.radius) - cx;
      const t = y.getPixelForValue(c.high), b = y.getPixelForValue(c.low);
      ctx.beginPath();
      ctx.ellipse(cx, (t + b) / 2, rx, (b - t) / 2, 0, 0, Math.PI * 2);
      ctx.fillStyle = "rgba(85,135,55,0.2)";
      ctx.fill();
      ctx.strokeStyle = "#66aa66";
      ctx.lineWidth = 1;
      ctx.stroke();
    });
    ctx.restore();
  },
  afterDatasetsDraw(chart: any) {
    const { ctx, scales: { x, y } } = chart;
    blueTags.forEach((t) => {
      const h = t.lines.length > 1 ? (t.lines[0].startsWith("+") ? 29 : 25) : 13;
      textBox(ctx, x.getPixelForValue(t.x) - t.w / 2, y.getPixelForValue(t.y) - h / 2, t.w, h, "#b9caff", "#8ea2dc", t.lines);
    });
    salmonTags.forEach((t) => {
      textBox(ctx, x.getPixelForValue(t.x) - t.w / 2, y.getPixelForValue(t.y) - 14.5, t.w, 29, "#ffa08a", "#ff9c85", t.lines, "#fffaf8");
    });
    const right = chart.chartArea.right;
    priceBoxes.forEach((b) => {
      const w = b.text.length > 5 ? 38 : 31;
      const h = 16.5;
      const py = y.getPixelForValue(b.value);
      textBox(ctx, right - w, py - h, w, h, b.color, b.color, [b.text], "rgba(255,255,255,0.9)", 11);
    });
    ctx.save();
    ctx.font = "bold 20px " + FONT;
    ctx.textAlign = "center";
    ctx.textBaseline = "middle";
    phaseTitles.forEach((t) => {
      ctx.fillStyle = t.color;
      ctx.fillText(t.text, x.getPixelForValue(t.x), y.getPixelForValue(t.y));
    });
    ctx.restore();
    vArrow(ctx, x.getPixelForValue(redArrow.x), y.getPixelForValue(redArrow.from), y.getPixelForValue(redArrow.to), "#f01010", 2.5, 6, 10);
    vArrow(ctx, x.getPixelForValue(greenArrow.x), y.getPixelForValue(greenArrow.from), y.getPixelForValue(greenArrow.to), "#33aa33", 1.5, 4.5, 7);
    vArrow(ctx, x.getPixelForValue(thinGreenArrow.x), y.getPixelForValue(thinGreenArrow.from), y.getPixelForValue(thinGreenArrow.to), "#33aa33", 1, 4, 5);

    // Header strip and legend row
    ctx.save();
    const g = ctx.createLinearGradient(0, 0, 0, 19);
    g.addColorStop(0, "#ffffff");
    g.addColorStop(1, "#eeeeee");
    ctx.fillStyle = g;
    ctx.fillRect(0, 0, 1778, 19);
    ctx.fillStyle = "#bdbdbd";
    ctx.fillRect(0, 0, 1778, 1);
    ctx.fillRect(0, 19, 1778, 1);
    ctx.fillStyle = "#cc4444";
    ctx.fillRect(3, 9, 5, 7);
    ctx.fillStyle = "#33bb33";
    ctx.fillRect(10, 6, 6, 9);
    ctx.fillRect(12.5, 3, 1, 15);
    ctx.font = "bold 10px " + FONT;
    ctx.fillStyle = "#0000cc";
    ctx.textBaseline = "middle";
    ctx.textAlign = "left";
    ctx.fillText(titleText, 21.5, 12);
    ctx.font = "bold 11px " + FONT;
    ctx.textAlign = "right";
    ctx.fillText("www.ProRealTime.com", 1775, 12);
    ctx.textAlign = "left";
    ctx.font = "10.5px " + FONT;
    ctx.fillText("ProRealTime.com", 2, 591);
    ctx.restore();
    legendChip(ctx, 1, 21, 45, 14, "Precio", ["#55bb55", "#dd6666"]);
    legendChip(ctx, 47, 21, 66, 14, "SMA (200)", ["#ff0033"]);
    legendChip(ctx, 114, 21, 61, 14, "SMA (50)", ["#00cc00"]);
  },
};

const yBase = (ticks: number[], min: number, max: number, labelFor: (v: number) => string, bold: number[], type = "linear") => ({
  type, position: "right", min, max,
  afterFit(s: any) { s.width = 40.5; s.paddingTop = 0; s.paddingBottom = 0; },
  afterBuildTicks(s: any) { s.ticks = ticks.map((value) => ({ value })); },
  grid: { drawOnChartArea: false, drawTicks: true, tickLength: 4, color: "#999" },
  border: { display: true, color: "#aaaaaa", width: 1 },
  ticks: {
    autoSkip: false, padding: 2, color: "#111", callback: (v: number) => labelFor(v),
    font: (c: any) => ({ family: FONT, size: 11.5, weight: c.tick && bold.includes(c.tick.value) ? "bold" : "normal" }),
  },
});

const xHidden = { type: "linear", display: false, min: -0.8, max: 492.5, offset: false };

function baseOptions(scales: any, top: number, bottom: number) {
  return {
    animation: false, responsive: false, events: [], maintainAspectRatio: false,
    layout: { padding: { left: 1, right: 0, top, bottom } },
    plugins: { legend: { display: false }, tooltip: { enabled: false } },
    scales,
  };
}

function mainConfig(): any {
  const wick = candles.map((c, i) => ({ x: i, y: [c[2], c[1]] }));
  const body = candles.map((c, i) => ({ x: i, y: [c[0], c[3]] }));
  const colors = candles.map((c) => (c[3] >= c[0] ? "#22a322" : "#bc3d3d"));
  const dashFib = "#b9caff";
  const p = phaseOne, q = phaseThree;
  return {
    type: "bar",
    data: {
      datasets: [
        line(sma50, "#3fd03f", 1.2, [], 1),
        line(sma200, "#ff3366", 1.3, [], 1),
        line(resistanceHigh, "#0c0cee", 2, [], 2),
        line(resistanceLow, "#0c0cee", 2, [], 2),
        line(redUpper, "#f01414", 2, [], 2),
        line(redLower, "#f04040", 1.5, [], 2),
        line(greenLevel, "#22a022", 2, [], 2),
        line(supportUpper, "#1414e0", 1.5, [], 2),
        line(supportLower, "#1414e0", 1.5, [], 2),
        line(trendThick, "#0a0aee", 2.6, [], 2),
        line(trendThin, "#5555ee", 1.3, [], 2),
        line(riseA, "#3344ee", 1, [], 2),
        line(riseB, "#3344ee", 1, [], 2),
        line(channelA, "#ff9a66", 1.4, [], 3),
        line(channelB, "#ff9a66", 1.4, [], 3),
        line(channelC, "#ff9a66", 1.4, [], 3),
        line(channelD, "#ff9a66", 1.4, [], 3),
        { type: "bar", data: body, backgroundColor: colors, barThickness: 3, minBarLength: 1, grouped: false, order: 4 },
        { type: "bar", data: wick, backgroundColor: colors, barThickness: 1, grouped: false, order: 5 },
        line([[p.from, p.high], [p.to, p.high]], dashFib, 1, [6, 5], 6),
        line([[p.from, p.low], [p.to, p.low]], dashFib, 1, [6, 5], 6),
        ...phaseOneFib.map((v) => line([[p.from, v], [p.to, v]], dashFib, 1, [6, 5], 6)),
        ...phaseThreeFib.map((v) => line([[q.from, v], [339.5, v]], dashFib, 1, [6, 5], 6)),
        line([[q.from, q.high + 0.6], [339.5, q.high + 0.6]], dashFib, 1, [6, 5], 6),
        line([[phaseTwo.from, phaseTwo.low], [phaseTwo.to, phaseTwo.low]], "#ff9c85", 1.2, [12, 8], 6),
        line([[q.from, q.high], [q.to, q.high]], "#44cc44", 1.2, [12, 8], 6),
        line([[q.to, q.high], [492.5, q.high]], "#44cc44", 1, [4, 3], 6),
        line([[q.from, q.low], [q.to, q.low]], "#44cc44", 1.2, [12, 8], 6),
      ],
    },
    options: baseOptions({
      x: xHidden,
      y: yBase(priceTicks, 51.7, 178.1, (v) => String(v), [150, 100], "logarithmic"),
    }, 20, 1),
    plugins: [mainPlugin],
  };
}

const sideBox = (chart: any, ctx: any, value: number, text: string, color: string, w = 33, boxValue = value) => {
  const s = chart.scales.y;
  const py = s.getPixelForValue(value);
  const by = s.getPixelForValue(boxValue);
  const r = chart.chartArea.right;
  ctx.save();
  ctx.strokeStyle = color;
  ctx.beginPath();
  ctx.moveTo(r, Math.round(py) + 0.5);
  ctx.lineTo(r + 4, Math.round(py) + 0.5);
  ctx.stroke();
  ctx.restore();
  textBox(ctx, r + 5, by - 6.5, w, 13.5, "#c0c0c0", color, [text], "#f4f4f4", 10.5);
};

function atrConfig(): any {
  return {
    type: "bar",
    data: { datasets: [{ data: series(atr), backgroundColor: "#ff2222", barThickness: 1.7, grouped: false }] },
    options: baseOptions({
      x: xHidden,
      y: yBase(atrTicks, 2.63, 7.38, (v) => String(v), [5]),
    }, 1, 0),
    plugins: [{
      id: "atrDecor",
      afterDraw(chart: any) {
        legendChip(chart.ctx, 1, 1, 88, 15, "ATR Porcentaje", ["#ff3333"]);
        sideBox(chart, chart.ctx, 3.0594, "3,0594", "#ff3333");
      },
    }],
  };
}

function macdConfig(): any {
  const colors = macdHist.map((v) => (v >= 0 ? "#44cc44" : "#ee7b7b"));
  return {
    type: "bar",
    data: {
      datasets: [
        line(macdLine, "#ff1a4a", 2, [], 1),
        line(macdSignal, "#333333", 1, [3, 3], 2),
        line([[-0.8, 0], [492.5, 0]], "#2222ee", 1.2, [], 3),
        line([[-0.8, macdDashLevel], [492.5, macdDashLevel]], "#ff9a55", 1.2, [5, 4], 3),
        { data: series(macdHist), backgroundColor: colors, barThickness: 1.7, grouped: false, order: 4 },
      ],
    },
    options: baseOptions({
      x: xHidden,
      y: yBase(macdTicks, -6.89, 14.46, (v) => String(v), []),
    }, 1, 0),
    plugins: [{
      id: "macdDecor",
      afterDraw(chart: any) {
        const { ctx, scales: { x, y } } = chart;
        legendChip(ctx, 1, 2, 90, 14, "MACD (12 26 9)", ["#33bb33", "#111111", "#dd4444"]);
        sideBox(chart, ctx, 5.4714, "5,4714", "#222222", 33, 4.44);
        sideBox(chart, ctx, 5.9559, "5,9559", "#ff2050", 33, 6.82);
        sideBox(chart, ctx, 0.4845, "0,4845", "#44cc44", 33, 0.4);
        const x0 = x.getPixelForValue(macdArrow.fromX), y0 = y.getPixelForValue(macdArrow.fromY);
        const x1 = x.getPixelForValue(macdArrow.toX), y1 = y.getPixelForValue(macdArrow.toY);
        ctx.save();
        ctx.strokeStyle = "#22aa33";
        ctx.fillStyle = "#22aa33";
        ctx.lineWidth = 2;
        ctx.beginPath();
        ctx.moveTo(x0, y0);
        ctx.lineTo(x1 - 8, y1 + 0.6);
        ctx.stroke();
        ctx.beginPath();
        ctx.moveTo(x1, y1);
        ctx.lineTo(x1 - 10, y1 - 6);
        ctx.lineTo(x1 - 10, y1 + 6);
        ctx.closePath();
        ctx.fill();
        ctx.restore();
      },
    }],
  };
}

function volumeConfig(): any {
  return {
    type: "bar",
    data: { datasets: [{ data: series(volume), backgroundColor: "#0a28ff", barThickness: 1.7, grouped: false }] },
    options: baseOptions({
      x: {
        type: "linear", min: -0.8, max: 492.5, offset: false,
        afterFit(s: any) { s.height = 30; s.paddingLeft = 0; s.paddingRight = 0; },
        afterBuildTicks(s: any) { s.ticks = dayLabels.map((_, i) => ({ value: 1 + 5 * i })); },
        grid: { drawOnChartArea: false, drawTicks: true, tickLength: 3, color: "#999" },
        border: { display: true, color: "#aaaaaa" },
        ticks: {
          autoSkip: false, maxRotation: 0, minRotation: 0, padding: 1, color: "#111",
          font: { family: FONT, size: 11 },
          callback: (v: number) => dayLabels[Math.round((v - 1) / 5)],
        },
      },
      y: yBase(volumeTicks, 0, 190, (v) => v + "M", []),
    }, 1, 0),
    plugins: [{
      id: "volumeDecor",
      afterDraw(chart: any) {
        const { ctx, scales: { x, y } } = chart;
        legendChip(ctx, 1, 1, 58, 15, "Volumen", ["#1133ff"]);
        sideBox(chart, ctx, 113, "113M", "#1a44ff", 26);
        ctx.save();
        volumeArrows.forEach((a) => {
          const cx = x.getPixelForValue(a.x), t = y.getPixelForValue(a.top), b = y.getPixelForValue(a.bottom);
          ctx.fillStyle = "#2c9c2c";
          ctx.strokeStyle = "#1c6c1c";
          ctx.beginPath();
          ctx.moveTo(cx, t);
          ctx.lineTo(cx + 5.5, t + 6);
          ctx.lineTo(cx + 2.5, t + 6);
          ctx.lineTo(cx + 2.5, b);
          ctx.lineTo(cx - 2.5, b);
          ctx.lineTo(cx - 2.5, t + 6);
          ctx.lineTo(cx - 5.5, t + 6);
          ctx.closePath();
          ctx.fill();
          ctx.stroke();
        });
        const top = chart.chartArea.bottom;
        ctx.font = "11.5px " + FONT;
        ctx.textAlign = "center";
        ctx.textBaseline = "middle";
        ctx.fillStyle = "#111";
        monthLabels.forEach((m, i) => {
          const a = x.getPixelForValue(monthStarts[i]), b = x.getPixelForValue(monthStarts[i + 1]);
          ctx.fillText(m, (a + b) / 2, top + 22.5);
          if (i > 0) {
            ctx.fillStyle = "#b0b0b0";
            ctx.fillRect(Math.round(a), top + 16, 1, 12);
            ctx.fillStyle = "#111";
          }
        });
        ctx.fillStyle = "#b8b8b8";
        ctx.fillRect(0, top + 29, 1778, 1);
        ctx.restore();
      },
    }],
  };
}

const panels = [
  { top: 0, height: 597, make: mainConfig },
  { top: 597, height: 132, make: atrConfig },
  { top: 729, height: 123, make: macdConfig },
  { top: 852, height: 148, make: volumeConfig },
];
const separators = [596, 729, 852];

export default function App() {
  const refs = useRef<(HTMLCanvasElement | null)[]>([]);
  useEffect(() => {
    document.body.style.margin = "0";
    Chart.defaults.font.family = FONT;
    const charts = panels.map((p, i) => new Chart(refs.current[i] as HTMLCanvasElement, p.make()));
    return () => charts.forEach((c) => c.destroy());
  }, []);
  return (
    <div style={{ position: "relative", width: 1778, height: 1000, overflow: "hidden", background: "#fff" }}>
      {panels.map((p, i) => (
        <canvas key={i} ref={(el) => { refs.current[i] = el; }} width={1778} height={p.height}
          style={{ position: "absolute", left: 0, top: p.top, width: 1778, height: p.height, display: "block" }} />
      ))}
      {separators.map((y) => (
        <div key={y} style={{ position: "absolute", left: 0, top: y, width: 1738, height: 2, background: "#c4c4c4" }} />
      ))}
      <div style={{ position: "absolute", left: 0, top: 0, width: 1, height: 1000, background: "#b8b8b8" }} />
    </div>
  );
}
